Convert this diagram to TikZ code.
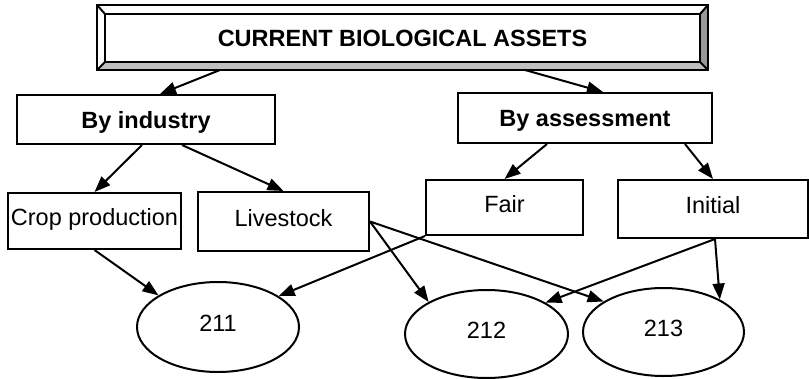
\documentclass[tikz,border=0pt]{standalone}
\usepackage{fontspec}
\setmainfont{Liberation Sans}
\usepackage{tikz}
\usetikzlibrary{calc, positioning, arrows.meta, shapes.geometric, backgrounds}
\tikzstyle{bx}=[draw, line width=2pt, inner sep=0pt, text height=17pt, text depth=8pt, font=\fontsize{23.5}{28}\selectfont]
\tikzstyle{hbx}=[bx, text depth=0pt, font=\fontsize{23.5}{28}\selectfont\bfseries]
\tikzstyle{elp}=[bx, shape=ellipse]
\tikzset{>={Triangle[length=16pt, width=12pt]}}

\begin{document}
\begin{tikzpicture}[x=1pt, y=-1pt, line width=2pt]
\useasboundingbox (0,0) rectangle (809,378);

% bevelled title box
\node[draw, outer sep=0pt, minimum width=611pt, minimum height=65pt] (cbo) at (402.5,37.5) {};
\node[hbx, outer sep=0pt, minimum width=595pt, minimum height=48pt] (cba) at (402.5,38) {CURRENT BIOLOGICAL ASSETS};
\begin{scope}[on background layer]
\fill[gray!80] (cba.north east) -- (cbo.north east) -- (cbo.south east) -- (cba.south east) -- cycle;
\fill[gray!50] (cba.south west) -- (cbo.south west) -- (cbo.south east) -- (cba.south east) -- cycle;
\end{scope}
\draw (cbo.north west) -- (cba.north west);
\draw (cbo.north east) -- (cba.north east);
\draw (cbo.south west) -- (cba.south west);
\draw (cbo.south east) -- (cba.south east);

\node[hbx, minimum width=258pt, minimum height=49pt] (ind) at (146,119.5) {By industry};
\node[hbx, minimum width=254pt, minimum height=50pt] (asm) at (585,118) {By assessment};
\node[bx, minimum width=173pt, minimum height=56pt] (crop) at (94.5,221) {Crop production};
\node[bx, minimum width=171pt, minimum height=59pt] (live) at (283.5,221.5) {Livestock};
\node[bx, minimum width=157pt, minimum height=55pt] (fair) at (504.5,207.5) {Fair};
\node[bx, minimum width=190pt, minimum height=58pt] (init) at (713,209) {Initial};
\node[elp, minimum width=162pt, minimum height=90pt] (e211) at (218,327) {211};
\node[elp, minimum width=163pt, minimum height=88pt] (e212) at (486.5,334) {212};
\node[elp, minimum width=161pt, minimum height=88pt] (e213) at (663.5,332) {213};

\draw[->] ($(cbo.south)+(-182.5,0)$) -- ($(ind.north)+(14,0)$);
\draw[->] ($(cbo.south)+(122.5,0)$) -- ($(asm.north)+(18,0)$);
\draw[->] ($(ind.south)+(-4,0)$) -- (crop.north);
\draw[->] ($(ind.south)+(36,0)$) -- (live.north);
\draw[->] ($(asm.south)+(-38,0)$) -- (fair.north);
\draw[->] ($(asm.south)+(100,0)$) -- (init.north);
\draw[->] (crop.south) -- (e211.152);
\draw[->] (fair.south west) -- (e211.27);
\draw[->] (live.east) -- (e212.151);
\draw[->] (live.east) -- (e213.153);
\draw[->] ($(init.south)+(2,0)$) -- (e212.28);
\draw[->] ($(init.south)+(2,0)$) -- (e213.30);
\end{tikzpicture}
\end{document}
